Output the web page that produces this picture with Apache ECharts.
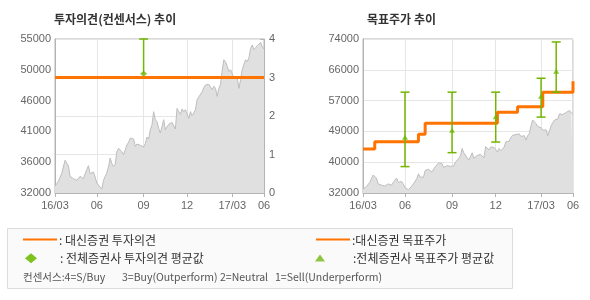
<!DOCTYPE html>
<html><head><meta charset="utf-8">
<script src="https://cdn.jsdelivr.net/npm/echarts@6/dist/echarts.min.js"></script>
<style>html,body{margin:0;padding:0;background:#fff}#c{width:590px;height:300px}</style>
</head><body><div id="c"></div>
<script>
// ---- data ----
const xTickIdx = [0, 25, 53, 79, 106, 125];
const xTickLabels = ['16/03', '06', '09', '12', '17/03', '06'];
const priceLeftTicks = ['32000', '36000', '41000', '46000', '50000', '55000'];
const priceRightTicks = ['32000', '40000', '49000', '57000', '66000', '74000'];
const opinionTicks = ['0', '1', '2', '3', '4'];
const price = [33000,33390,33740,33590,34890,35880,36880,37080,36080,34490,
34240,34140,33990,33890,33740,34490,34640,34140,34890,35090,
36080,34890,34690,35140,34390,33490,33190,32900,32600,33890,
34490,34990,35880,37230,36380,35980,36280,38170,38670,38470,
38170,37720,37580,39170,39570,40210,40360,40060,38970,39320,
39470,39120,39270,38870,39370,40360,40060,41460,42160,44150,
42950,42650,41660,40960,41960,42950,41460,41660,42260,42450,
42550,42650,41560,44640,44150,43750,44550,44150,44450,43850,
43150,44150,43550,43950,44450,45940,46340,46140,47130,47730,
48130,47930,48230,48130,47430,47930,47630,46440,47630,48230,
50320,51910,51610,50920,50120,50420,49820,49120,48930,49220,
47630,48930,50420,51220,51910,51610,52210,53600,54100,53400,
53700,54000,54200,54500,53800,53500];
// Daishin opinion (change points)
const opinionIdx = [0, 125];
const opinionVal = [3, 3];
// consensus opinion: index, low, high, mean
const consOpIdx = [53];
const consOpLow = [3.1];
const consOpHigh = [4];
const consOpMean = [3.1];
// Daishin target price (change points)
const targetIdx = [0, 7, 33, 37, 80, 92, 107, 125];
const targetVal = [44000, 46000, 48000, 51000, 54000, 55500, 59500, 62500];
// consensus target: index, low, high, mean
const consTpIdx = [25, 53, 79, 106, 115];
const consTpLow = [39200, 43000, 45900, 52700, 59500];
const consTpHigh = [59500, 59500, 59500, 63300, 73200];
const consTpMean = [47200, 49100, 52800, 58400, 65200];
// consensus scale legend
const scaleTexts = ['컨센서스:4=S/Buy', '3=Buy(Outperform)', '2=Neutral', '1=Sell(Underperform)'];

// ---- build ----
const cats = price.map((_, i) => String(i));
const tickSet = new Set(xTickIdx);
const tickFn = (i) => tickSet.has(i);
const lblMap = {}; xTickIdx.forEach((k, j) => lblMap[k] = xTickLabels[j]);
const ORANGE = '#ff7300', GREEN = '#72b600', AXIS = '#b4b4b4', GRIDC = '#e6e6e6';
const LBL = {color: '#666', fontSize: 11, fontFamily: 'Liberation Sans, Arial, sans-serif'};
const KR = 'Noto Sans CJK KR';

function xAx(gi) {
  return {type: 'category', gridIndex: gi, data: cats, boundaryGap: false,
    axisLine: {lineStyle: {color: AXIS}},
    axisTick: {show: true, interval: tickFn, length: 4, lineStyle: {color: AXIS}},
    axisLabel: Object.assign({interval: tickFn, margin: 7, showMaxLabel: true, showMinLabel: true,
      formatter: (v, i) => lblMap[i] || ''}, LBL),
    splitLine: {show: true, interval: tickFn, lineStyle: {color: GRIDC}}};
}
function errItem(idx, lo, hi, mean) { return [idx, lo, hi, mean]; }
function errRender(params, api) {
  const i = api.value(0), lo = api.value(1), hi = api.value(2), m = api.value(3);
  const pHi = api.coord([i, hi]), pLo = api.coord([i, lo]);
  const st = {stroke: GREEN, lineWidth: 1.5};
  const ch = [
    {type: 'line', shape: {x1: pHi[0], y1: pHi[1], x2: pLo[0], y2: pLo[1]}, style: st},
    {type: 'line', shape: {x1: pHi[0] - 4.5, y1: pHi[1], x2: pHi[0] + 4.5, y2: pHi[1]}, style: st}
  ];
  if (lo < m - 1e-9) ch.push({type: 'line', shape: {x1: pLo[0] - 4.5, y1: pLo[1], x2: pLo[0] + 4.5, y2: pLo[1]}, style: st});
  return {type: 'group', children: ch};
}

const scaleX = [23, 122, 220, 275];
const graphics = [
  {type: 'text', left: 54, top: 13, style: {text: '투자의견(컨센서스) 추이', fontSize: 12, fontWeight: 'bold', fill: '#333', fontFamily: KR}},
  {type: 'text', left: 367, top: 13, style: {text: '목표주가 추이', fontSize: 12, fontWeight: 'bold', fill: '#333', fontFamily: KR}},
  {type: 'rect', shape: {x: 7.5, y: 228.5, width: 505, height: 60}, style: {fill: '#fafafa', stroke: '#dcdcdc', lineWidth: 1}},
  {type: 'line', shape: {x1: 23, y1: 239.5, x2: 57, y2: 239.5}, style: {stroke: ORANGE, lineWidth: 2}},
  {type: 'text', x: 59, y: 240, style: {text: ': 대신증권 투자의견', fontSize: 12, fill: '#333', verticalAlign: 'middle', fontFamily: KR}},
  {type: 'polygon', shape: {points: [[31, 253.3], [37, 258.3], [31, 263.3], [25, 258.3]]}, style: {fill: '#7dc21e'}},
  {type: 'text', x: 60, y: 258.5, style: {text: ': 전체증권사 투자의견 평균값', fontSize: 12, fill: '#333', verticalAlign: 'middle', fontFamily: KR}},
  {type: 'line', shape: {x1: 316, y1: 239.5, x2: 350, y2: 239.5}, style: {stroke: ORANGE, lineWidth: 2}},
  {type: 'text', x: 352, y: 240, style: {text: ':대신증권 목표주가', fontSize: 12, fill: '#333', verticalAlign: 'middle', fontFamily: KR}},
  {type: 'polygon', shape: {points: [[320, 254.5], [325, 261.5], [315, 261.5]]}, style: {fill: '#8cc63f'}},
  {type: 'text', x: 353, y: 258.5, style: {text: ':전체증권사 목표주가 평균값', fontSize: 12, fill: '#333', verticalAlign: 'middle', fontFamily: KR}}
];
scaleTexts.forEach((t, j) => graphics.push({type: 'text', x: scaleX[j], y: 277,
  style: {text: t, fontSize: 10.5, fill: '#555', verticalAlign: 'middle', fontFamily: KR}}));

const option = {
  animation: false,
  grid: [
    {left: 55, top: 39, width: 209, height: 154, show: true, borderColor: AXIS, borderWidth: 1},
    {left: 363, top: 39, width: 210, height: 154, show: true, borderColor: AXIS, borderWidth: 1}
  ],
  xAxis: [xAx(0), xAx(1)],
  yAxis: [
    {type: 'value', gridIndex: 0, min: 32000, max: 55000, interval: 4600,
      axisLine: {show: true, lineStyle: {color: AXIS}}, axisTick: {show: false}, splitLine: {show: false},
      axisLabel: Object.assign({margin: 4, formatter: (v) => priceLeftTicks[Math.round((v - 32000) / 4600)]}, LBL)},
    {type: 'value', gridIndex: 0, position: 'right', min: 0, max: 4, interval: 1,
      axisLine: {show: true, lineStyle: {color: AXIS}},
      axisTick: {show: true, inside: true, length: 4, lineStyle: {color: AXIS}},
      splitLine: {show: true, lineStyle: {color: GRIDC}},
      axisLabel: Object.assign({margin: 5, formatter: (v) => opinionTicks[Math.round(v)]}, LBL)},
    {type: 'value', gridIndex: 1, min: 32000, max: 74000, interval: 8400,
      axisLine: {show: true, lineStyle: {color: AXIS}}, axisTick: {show: false},
      splitLine: {show: true, lineStyle: {color: GRIDC}},
      axisLabel: Object.assign({margin: 4, formatter: (v) => priceRightTicks[Math.round((v - 32000) / 8400)]}, LBL)}
  ],
  series: [
    {type: 'line', xAxisIndex: 0, yAxisIndex: 0, data: price, symbol: 'none', z: 1,
      lineStyle: {width: 1, color: '#bdbdbd'}, areaStyle: {color: '#e0e0e0', opacity: 1}},
    {type: 'line', xAxisIndex: 1, yAxisIndex: 2, data: price, symbol: 'none', z: 1,
      lineStyle: {width: 1, color: '#bdbdbd'}, areaStyle: {color: '#e0e0e0', opacity: 1}},
    {type: 'line', xAxisIndex: 0, yAxisIndex: 1, step: 'end', symbol: 'none', z: 3,
      data: opinionIdx.map((k, j) => [k, opinionVal[j]]), lineStyle: {width: 3, color: ORANGE}},
    {type: 'custom', xAxisIndex: 0, yAxisIndex: 1, z: 4, renderItem: errRender,
      encode: {x: 0, y: [1, 2]},
      data: consOpIdx.map((k, j) => errItem(k, consOpLow[j], consOpHigh[j], consOpMean[j]))},
    {type: 'scatter', xAxisIndex: 0, yAxisIndex: 1, z: 5, symbol: 'diamond', symbolSize: [7, 6],
      itemStyle: {color: GREEN}, data: consOpIdx.map((k, j) => [k, consOpMean[j]])},
    {type: 'line', xAxisIndex: 1, yAxisIndex: 2, step: 'end', symbol: 'none', z: 3,
      data: targetIdx.map((k, j) => [k, targetVal[j]]), lineStyle: {width: 3, color: ORANGE}},
    {type: 'custom', xAxisIndex: 1, yAxisIndex: 2, z: 4, renderItem: errRender,
      encode: {x: 0, y: [1, 2]},
      data: consTpIdx.map((k, j) => errItem(k, consTpLow[j], consTpHigh[j], consTpMean[j]))},
    {type: 'scatter', xAxisIndex: 1, yAxisIndex: 2, z: 5, symbol: 'triangle', symbolSize: [6, 5],
      itemStyle: {color: GREEN}, data: consTpIdx.map((k, j) => [k, consTpMean[j]])}
  ],
  graphic: graphics
};
echarts.init(document.getElementById('c'), null, {renderer: 'canvas'}).setOption(option);
</script></body></html>
